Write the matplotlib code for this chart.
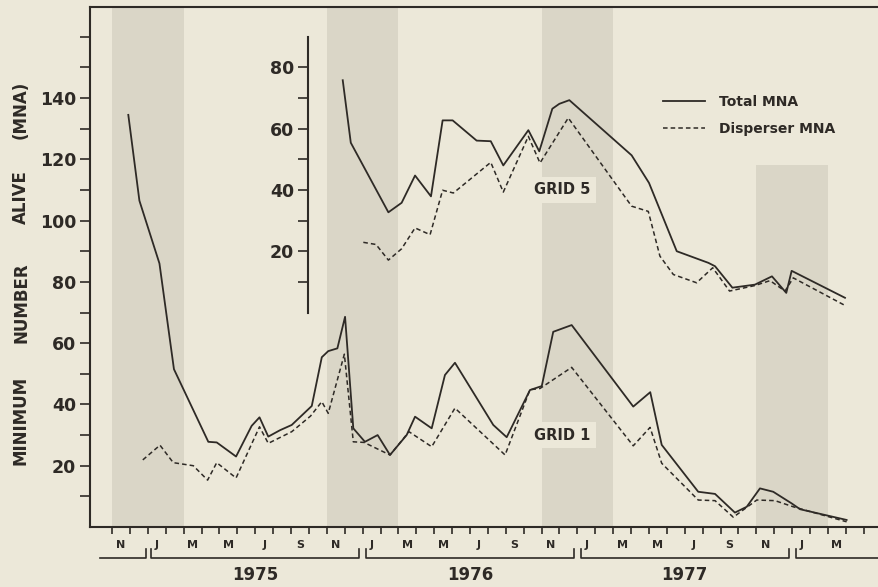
import matplotlib
matplotlib.use("Agg")
import matplotlib.pyplot as plt
import matplotlib.transforms as mtransforms
from matplotlib.lines import Line2D

# ---- data (time in months since 1 Nov 1974) ----
g1_total_t = [0.91, 1.53, 2.65, 3.46, 5.38, 5.85, 6.93, 7.80, 8.24, 8.73, 9.39, 10.04,
              11.16, 11.72, 12.08, 12.59, 13.02, 13.48, 14.13, 14.84, 15.53, 16.46, 16.93,
              17.86, 18.60, 19.16, 21.30, 22.05, 23.35, 24.01, 24.65, 25.68, 29.12, 30.07,
              30.71, 32.75, 33.69, 34.80, 35.46, 36.20, 36.94, 37.97, 38.44, 41.04]
g1_total = [134.5, 106.5, 86, 51.5, 27.8, 27.6, 23, 33, 35.8, 29.5, 31.6, 33.3,
            39.5, 55.4, 57.4, 58.3, 68.6, 32.2, 27.8, 30, 23.5, 30, 36,
            32.2, 49.6, 53.6, 33.3, 29.3, 44.7, 46, 63.7, 65.9, 39.3, 44,
            26.8, 11.5, 10.8, 4.7, 6.6, 12.6, 11.5, 7.7, 5.8, 2.3]

g1_disp_t = [1.72, 2.68, 3.42, 4.54, 5.34, 5.85, 6.93, 8.24, 8.73, 10.04, 11.09, 11.72,
             12.08, 12.98, 13.48, 14.08, 15.53, 16.59, 17.86, 19.16, 21.96, 23.35, 23.91,
             25.68, 29.12, 30.06, 30.71, 32.75, 33.69, 34.71, 36.02, 37.04, 38.06, 41.04]
g1_disp = [21.9, 26.7, 21, 20, 15.3, 21, 16, 32.7, 27.3, 31.1, 36.2, 40.9,
           37.1, 56.4, 27.8, 27.6, 23.5, 31.1, 26.2, 38.8, 23.5, 44.8, 45.2,
           52.1, 26.5, 32.5, 20.8, 8.8, 8.6, 3.2, 8.8, 8.6, 6.6, 1.7]

g5_total_t = [12.89, 13.34, 15.44, 16.18, 16.93, 17.82, 18.47, 19.03, 20.37, 21.16, 21.86,
              23.26, 23.87, 24.60, 24.99, 25.55, 29.03, 30.0, 31.55, 33.32, 33.69, 34.66,
              35.92, 36.87, 37.67, 37.97, 40.95]
g5_total = [75.8, 55.4, 32.7, 35.8, 44.7, 37.9, 62.7, 62.7, 56.1, 55.9, 48,
            59.5, 52.6, 66.5, 68.1, 69.3, 51.3, 42.3, 20, 16.2, 15.1, 8.1,
            9.1, 11.8, 6.4, 13.6, 4.8]

g5_disp_t = [14.04, 14.75, 15.44, 16.18, 16.93, 17.77, 18.47, 19.07, 21.16, 21.86, 23.26,
             23.91, 25.49, 29.03, 29.96, 30.61, 31.36, 32.66, 33.56, 34.50, 35.92, 36.76,
             37.60, 38.06, 40.95]
g5_disp = [22.9, 22.2, 17.1, 20.8, 27.6, 25.4, 39.9, 39, 49, 39.3, 57.5,
           48.8, 63.5, 34.7, 33, 18.4, 12.4, 9.7, 14.6, 7, 8.8, 10.4,
           7, 11.3, 2.3]

month_letters = ["N", "J", "M", "M", "J", "S"]
years = [1975, 1976, 1977]
winters = [1974, 1975, 1976, 1977]
n_months = 42

# ---- style ----
BG = "#ECE8D9"
BAND = "#DAD6C7"
INK = "#2E2A26"
plt.rcParams["font.family"] = ["DejaVu Sans"]
plt.rcParams["font.weight"] = "bold"
plt.rcParams["text.color"] = INK
plt.rcParams["axes.labelcolor"] = INK
plt.rcParams["xtick.color"] = INK
plt.rcParams["ytick.color"] = INK

W, H = 879, 587
fig = plt.figure(figsize=(W / 100, H / 100), dpi=100)
fig.patch.set_facecolor(BG)
ax = fig.add_axes([90 / W, 60 / H, 789 / W, 520 / H])
ax.set_facecolor(BG)
XMIN, XMAX = -1.23, 42.85
YMAX = 169.7
ax.set_xlim(XMIN, XMAX)
ax.set_ylim(0, YMAX)

for i, w in enumerate(winters):
    s = 12 * (w - 1974)
    top = 1.0 if i < len(winters) - 1 else 118 / YMAX
    ax.axvspan(s, s + 4, ymax=top, color=BAND, lw=0, zorder=0)

for sp in ["left", "top", "bottom"]:
    ax.spines[sp].set_linewidth(1.5)
    ax.spines[sp].set_color(INK)
ax.spines["right"].set_visible(False)

ax.set_yticks(list(range(20, 141, 20)))
ax.set_yticks([10, 30, 50, 70, 90, 110, 130, 150, 160], minor=True)
ax.tick_params(axis="y", which="both", direction="out", length=7, width=1.2,
               labelsize=12.5, pad=3)

ax.set_xticks(list(range(0, n_months + 1)))
ax.set_xticklabels([])
lab_pos = [k + 0.5 for k in range(0, n_months - 1, 2)]
ax.set_xticks(lab_pos, minor=True)
ax.set_xticklabels([month_letters[i % 6] for i in range(len(lab_pos))], minor=True,
                   fontsize=8, fontweight="bold")
ax.tick_params(axis="x", which="major", direction="out", length=5, width=1.2)
ax.tick_params(axis="x", which="minor", length=0, pad=9)

# grid 1 lines
ax.plot(g1_total_t, g1_total, color=INK, lw=1.3, zorder=3)
ax.plot(g1_disp_t, g1_disp, color=INK, lw=1.1, dashes=(3, 2), zorder=3)

# year brackets
trans = mtransforms.blended_transform_factory(ax.transData, ax.transAxes)
yb, yh = -0.0596, -0.0423
bk = dict(color=INK, lw=1.2, transform=trans, clip_on=False)
ax.plot([-0.67, 1.9, 1.9], [yb, yb, yh], **bk)
for y in years:
    a = 2 + 12 * (y - 1975) + 0.2
    b = 2 + 12 * (y - 1974) - 0.2
    ax.plot([a, a, b, b], [yh, yb, yb, yh], **bk)
    ax.text((a + b) / 2, -0.0923, str(y), transform=trans, ha="center", va="center",
            fontsize=12, fontweight="bold")
a = 2 + 12 * (years[-1] - 1974) + 0.2
ax.plot([a, a, XMAX + 1], [yh, yb, yb], **bk)

ax.text(25.14, 30.0, "GRID 1", ha="center", va="center", fontsize=10.5, fontweight="bold",
        bbox=dict(facecolor=BG, edgecolor="none", pad=4), zorder=4)

# y label, word by word
for word, ypx in [("MINIMUM", 420), ("NUMBER", 303), ("ALIVE", 197), ("(MNA)", 110)]:
    fig.text(21 / W, 1 - ypx / H, word, rotation=90, ha="center", va="center",
             fontsize=12, fontweight="bold")

# inset grid 5
IX0 = 10.95
ins = ax.inset_axes([IX0, 70, XMAX - IX0, 90], transform=ax.transData)
ins.patch.set_alpha(0)
ins.set_xlim(IX0, XMAX)
ins.set_ylim(0, 90)
for sp in ["right", "top", "bottom"]:
    ins.spines[sp].set_visible(False)
ins.spines["left"].set_linewidth(1.5)
ins.spines["left"].set_color(INK)
ins.set_xticks([])
ins.set_yticks([20, 40, 60, 80])
ins.set_yticks([10, 30, 50, 70], minor=True)
ins.tick_params(axis="y", which="both", direction="out", length=7, width=1.2,
                labelsize=12.5, pad=3)
ins.plot(g5_total_t, g5_total, color=INK, lw=1.3)
ins.plot(g5_disp_t, g5_disp, color=INK, lw=1.1, dashes=(3, 2))
ins.text(25.14, 40.1, "GRID 5", ha="center", va="center", fontsize=10.5, fontweight="bold",
         bbox=dict(facecolor=BG, edgecolor="none", pad=4))

handles = [Line2D([], [], color=INK, lw=1.3),
           Line2D([], [], color=INK, lw=1.1, dashes=(3, 2))]
leg = fig.legend(handles, ["Total MNA", "Disperser MNA"], loc="upper left",
                 bbox_to_anchor=(663 / W, 1 - 95 / H), bbox_transform=fig.transFigure,
                 frameon=False, borderpad=0, borderaxespad=0, handlelength=3.0,
                 handletextpad=1.0, labelspacing=0.95,
                 prop=dict(size=10, weight="bold"))

fig.savefig("out.png", dpi=100, facecolor=BG)
